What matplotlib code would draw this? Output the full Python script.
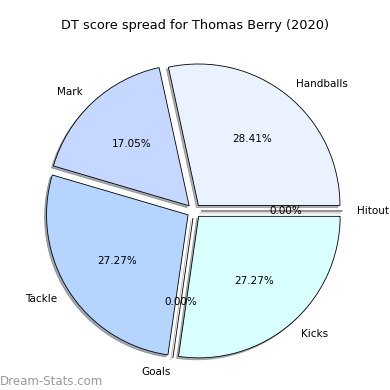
import matplotlib
matplotlib.use("Agg")
import matplotlib.pyplot as plt

labels = ["Handballs", "Mark", "Tackle", "Goals", "Kicks", "Hitout"]
values = [25, 15, 24, 0, 24, 0]
colors = ["#eaf1ff", "#c6d8ff", "#b5d5ff", "#ffffff", "#d9ffff", "#ffffff"]
explode = [0.05] * len(labels)

fig = plt.figure(figsize=(3.9, 3.9), dpi=100)
ax = fig.add_axes([0, 0, 1, 1])
ax.pie(values, labels=labels, colors=colors, explode=explode, autopct="%1.2f%%",
       shadow={"ox": -0.01, "oy": -0.01, "shade": 0.6}, startangle=0, counterclock=True,
       wedgeprops={"edgecolor": "black", "linewidth": 0.6},
       textprops={"fontsize": 7.5})
cx, cy, r = 194, 179, 141.5
ax.set_aspect("auto")
ax.set_xlim(-cx / r, (390 - cx) / r)
ax.set_ylim(-cy / r, (390 - cy) / r)
ax.axis("off")
fig.text(0.5, 1 - 25 / 390, "DT score spread for Thomas Berry (2020)", fontsize=9.3,
         ha="center", va="center")
fig.text(0.0, 0.005, "Dream-Stats.com", fontsize=8.5, color="#999999", ha="left", va="bottom")
fig.savefig("out.png", dpi=100)
